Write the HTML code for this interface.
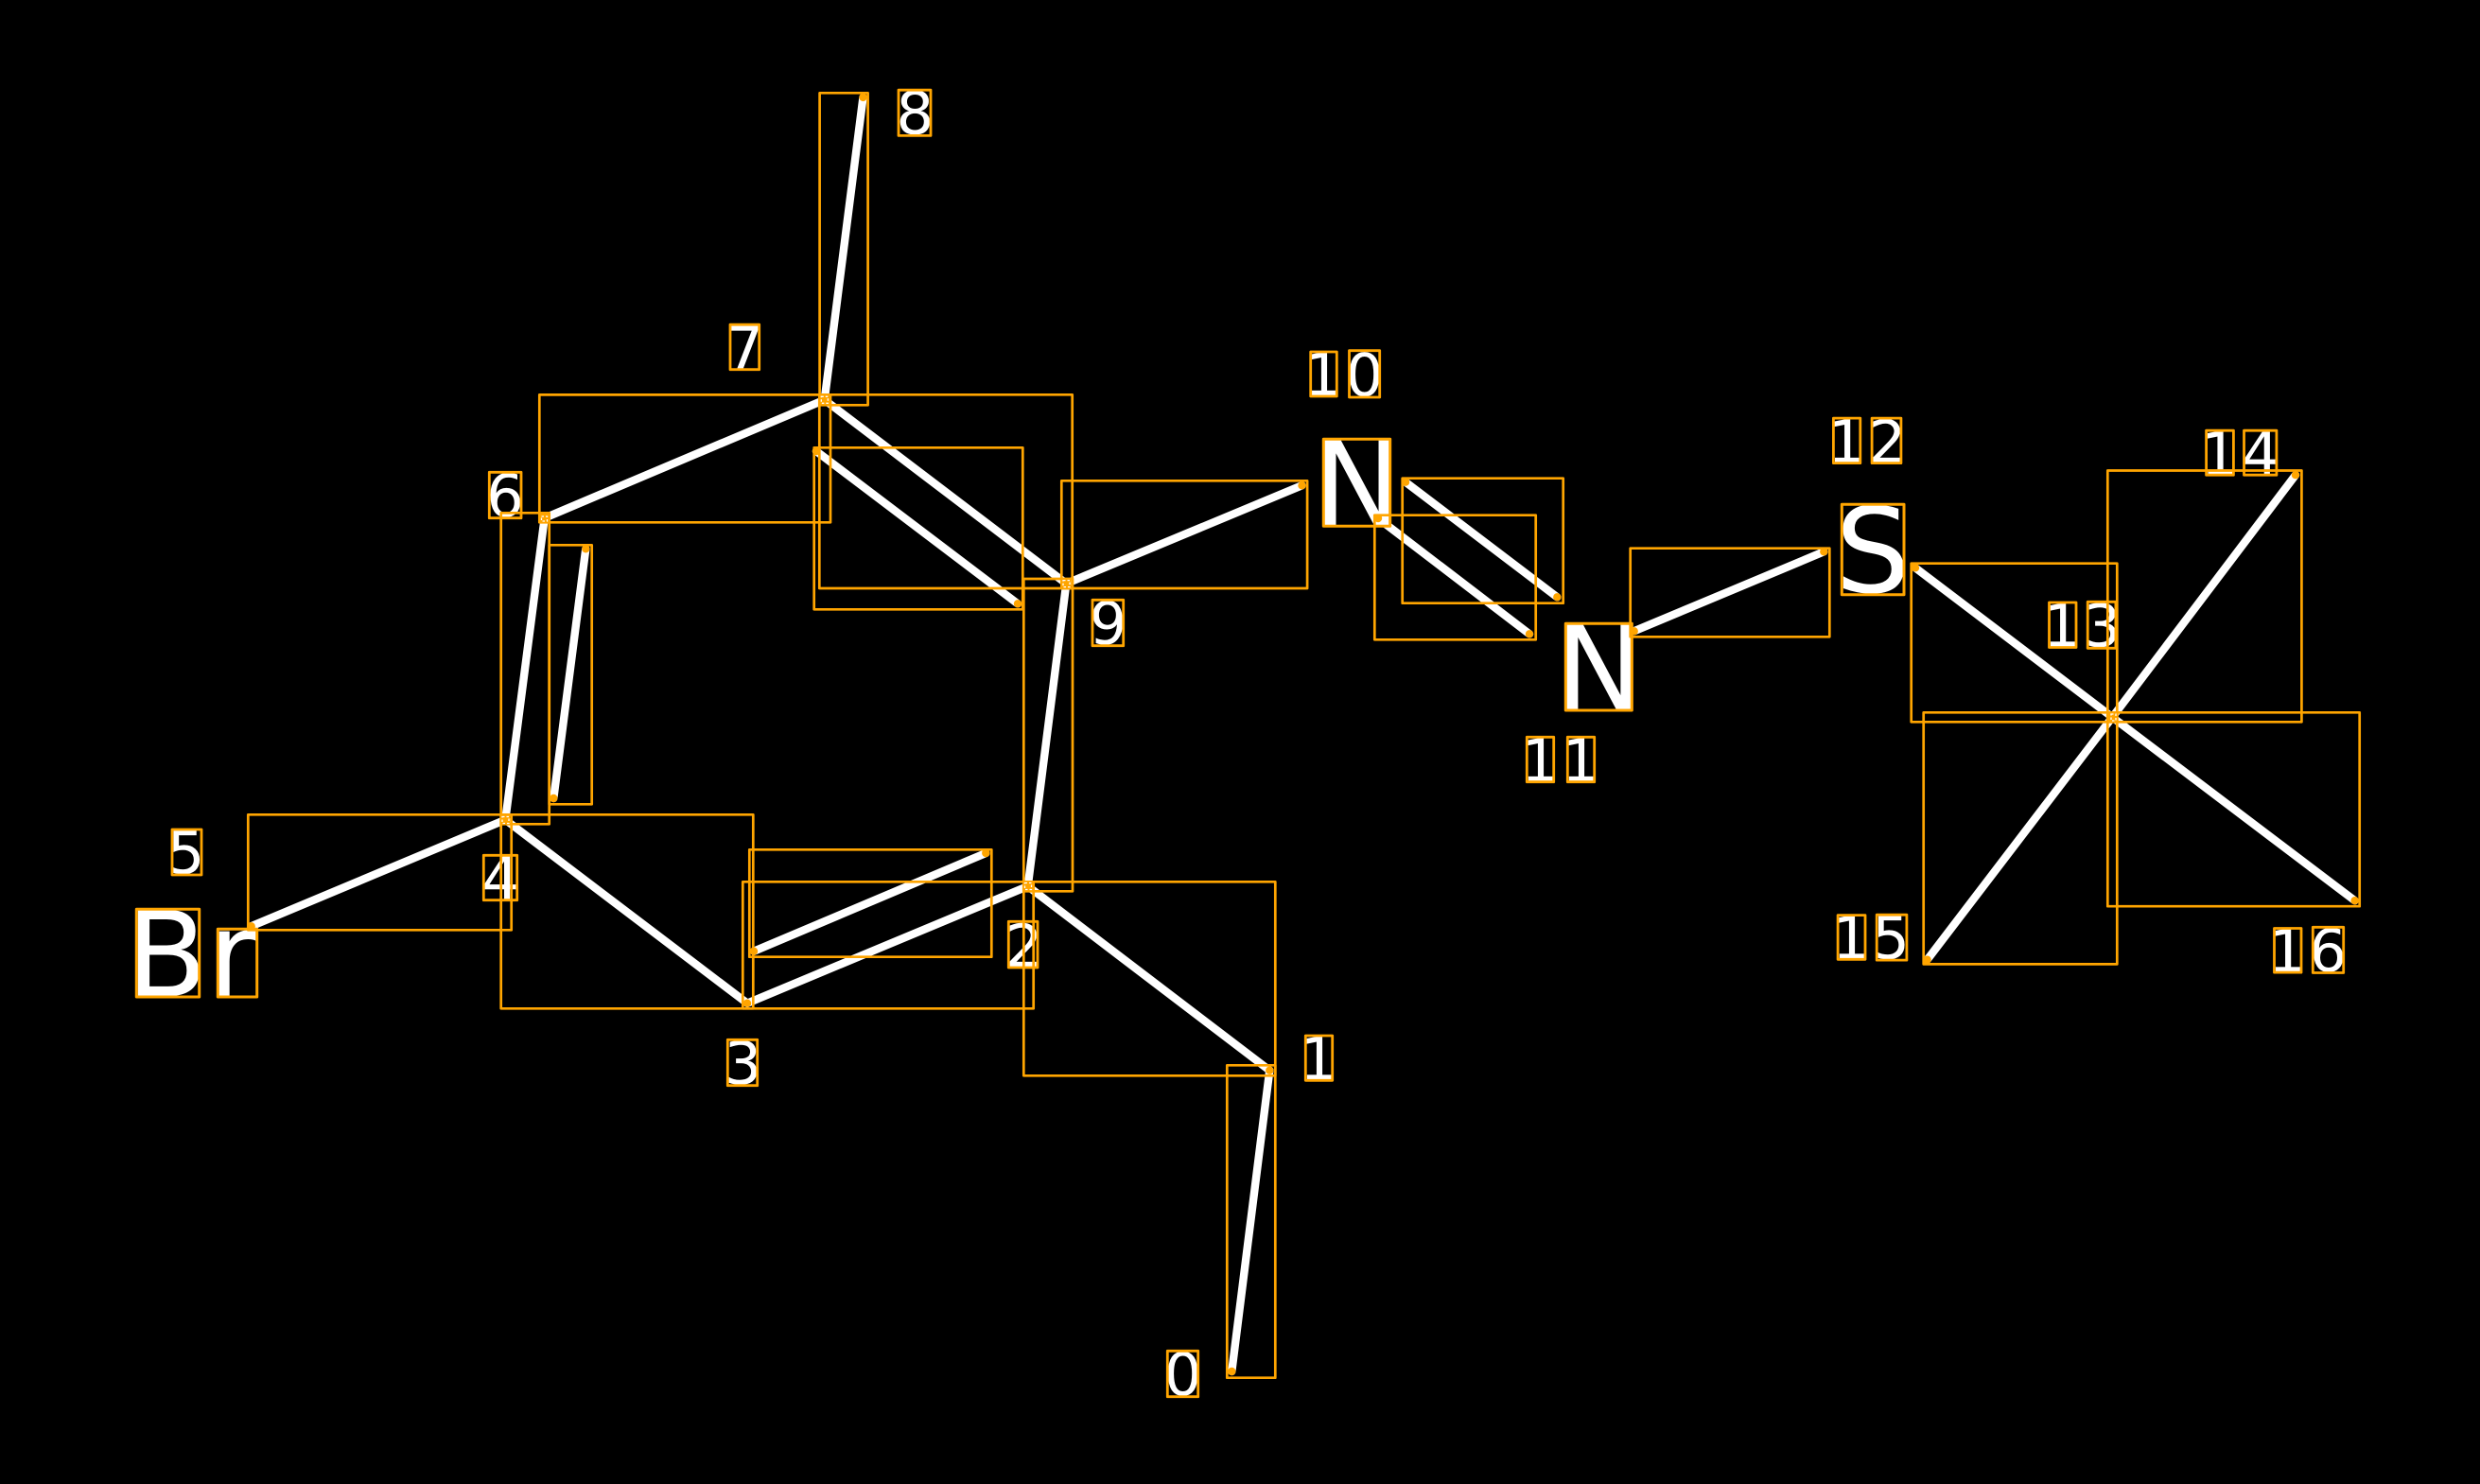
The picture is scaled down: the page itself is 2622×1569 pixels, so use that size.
<!DOCTYPE html>
<html>
<head>
<meta charset="utf-8">
<style>
html,body{margin:0;padding:0;background:#000;width:2622px;height:1569px;overflow:hidden}
svg{display:block}
text{font-family:"DejaVu Sans","Liberation Sans",sans-serif;fill:#fff;text-rendering:geometricPrecision}
.s{font-size:62.5px}
.b{font-size:125px}
.bond{stroke:#fff;stroke-width:8.4;stroke-linecap:round;fill:none}
.box{stroke:#FFA500;stroke-width:2.7;fill:none;stroke-linejoin:round}
.lab{stroke:#FFA500;stroke-width:2.8;fill:none;stroke-linejoin:round}
.dot{fill:#FFA500}
.hole{fill:none;stroke:#fff;stroke-width:1.3;stroke-dasharray:2.5 2}
</style>
</head>
<body>
<svg xmlns="http://www.w3.org/2000/svg" width="2622" height="1569" viewBox="0 0 2622 1569">
<rect x="0" y="0" width="2622" height="1569" fill="#000"/>

<!-- bonds -->
<g class="bond">
<line x1="1302.3" y1="1450" x2="1342.3" y2="1131.7"/>
<line x1="1342.3" y1="1131.7" x2="1086.7" y2="937"/>
<line x1="1086.7" y1="937" x2="790" y2="1060.7"/>
<line x1="1042.3" y1="902" x2="797" y2="1005.7"/>
<line x1="790" y1="1060.7" x2="534.3" y2="866.7"/>
<line x1="534.3" y1="866.7" x2="265.7" y2="979.3"/>
<line x1="534.3" y1="866.7" x2="575.7" y2="547.7"/>
<line x1="585.3" y1="844" x2="619.3" y2="580.3"/>
<line x1="575.7" y1="547.7" x2="871.7" y2="422.7"/>
<line x1="871.7" y1="422.7" x2="912.5" y2="102.9"/>
<line x1="871.7" y1="422.7" x2="1127.3" y2="617"/>
<line x1="863" y1="477" x2="1076" y2="638.3"/>
<line x1="1127.3" y1="617" x2="1086.7" y2="937"/>
<line x1="1127.3" y1="617" x2="1376.5" y2="513.3"/>
<line x1="1457" y1="548" x2="1617" y2="670.3"/>
<line x1="1486" y1="509.7" x2="1646.3" y2="631.3"/>
<line x1="1727.7" y1="667.3" x2="1928.3" y2="583.3"/>
<line x1="2025" y1="600.3" x2="2233.3" y2="758.3"/>
<line x1="2427" y1="502.2" x2="2233.3" y2="758.3"/>
<line x1="2037.6" y1="1014.7" x2="2233.3" y2="758.3"/>
<line x1="2489.6" y1="952.2" x2="2233.3" y2="758.3"/>
</g>

<!-- labels -->
<text class="s" x="1230.7" y="1475">0</text>
<text class="s" x="1374.1" y="1141.5">1</text>
<text class="s" x="1062.6" y="1022.2">2</text>
<text class="s" x="765.5" y="1146">3</text>
<text class="s" x="509.4" y="950.9">4</text>
<text class="s" x="176.8" y="923.3">5</text>
<text class="s" x="514.1" y="546">6</text>
<text class="s" x="767.7" y="389.9">7</text>
<text class="s" x="947.5" y="141.7">8</text>
<text class="s" x="1151.7" y="681">9</text>
<text class="s" x="1379.1" y="418.2">1</text>
<text class="s" x="1422.8" y="418.3">0</text>
<text class="s" x="1608.1" y="825.9">1</text>
<text class="s" x="1651.1" y="825.9">1</text>
<text class="s" x="1932.2" y="488.8">1</text>
<text class="s" x="1975.5" y="488.8">2</text>
<text class="s" x="2160.3" y="683.7">1</text>
<text class="s" x="2202.5" y="683.6">3</text>
<text class="s" x="2326.6" y="501.4">1</text>
<text class="s" x="2370.1" y="501.4">4</text>
<text class="s" x="1937.1" y="1013.5">1</text>
<text class="s" x="1979.3" y="1013.4">5</text>
<text class="s" x="2398.3" y="1027.3">1</text>
<text class="s" x="2441.4" y="1026.8">6</text>
<text class="b" x="133.5" y="1053.2">B</text>
<text class="b" x="220" y="1053.2">r</text>
<text class="b" x="1388.2" y="555.5">N</text>
<text class="b" x="1644.1" y="750.2">N</text>
<text class="b" x="1940.3" y="626.1">S</text>

<!-- bond boxes -->
<g class="box">
<path d="M1297.3 1126.3H1348.3V1456.7H1297.3Z"/>
<path d="M1082.3 932.3H1348.3V1137.3H1082.3Z"/>
<path d="M785.3 932.3H1092.7V1066.3H785.3Z"/>
<path d="M792.3 898.3H1048.3V1011.7H792.3Z"/>
<path d="M529.7 861.3H796.3V1066.3H529.7Z"/>
<path d="M262.3 861.3H540.7V983.3H262.3Z"/>
<path d="M529.7 542.3H580.7V871.3H529.7Z"/>
<path d="M580.7 576.3H625.7V850.3H580.7Z"/>
<path d="M570.3 417.4H878V552.3H570.3Z"/>
<path d="M866.6 98.3H917.6V428.3H866.6Z"/>
<path d="M866.3 417.3H1133.7V622H866.3Z"/>
<path d="M860.7 473.3H1081.3V644.3H860.7Z"/>
<path d="M1082.3 612H1134V942.3H1082.3Z"/>
<path d="M1122.3 508.3H1382.1V622H1122.3Z"/>
<path d="M1453.3 544.7H1623.7V676.3H1453.3Z"/>
<path d="M1482.7 505.7H1652.7V637.7H1482.7Z"/>
<path d="M1723.7 579.7H1934.3V673.3H1723.7Z"/>
<path d="M2020.7 595.7H2238.3V763.3H2020.7Z"/>
<path d="M2228.3 497.5H2433.4V763.3H2228.3Z"/>
<path d="M2033.7 753.3H2238.3V1019.4H2033.7Z"/>
<path d="M2228.3 753.3H2494.7V958.2H2228.3Z"/>
</g>

<!-- label boxes -->
<g class="lab">
<path d="M1234.3 1428.3H1266.7V1476.7H1234.3Z"/>
<path d="M1380.3 1095H1408.7V1142.3H1380.3Z"/>
<path d="M1066.3 974.3H1097V1023H1066.3Z"/>
<path d="M769.3 1099.3H800.7V1147.7H769.3Z"/>
<path d="M511.3 904.3H546.7V951.7H511.3Z"/>
<path d="M182 877H213V925H182Z"/>
<path d="M517.3 499.3H551V547.7H517.3Z"/>
<path d="M772 343.2H802.7V390.7H772Z"/>
<path d="M950 95.2H984V143.4H950Z"/>
<path d="M1155 634.3H1187.7V682.7H1155Z"/>
<path d="M1385.7 372H1413.3V419H1385.7Z"/>
<path d="M1426.5 370.7H1458.7V420H1426.5Z"/>
<path d="M1614.3 779.3H1642.7V826.7H1614.3Z"/>
<path d="M1657.3 779.3H1685.7V826.7H1657.3Z"/>
<path d="M1938.4 442.1H1966.8V489.6H1938.4Z"/>
<path d="M1979.1 442.1H2009.9V489.6H1979.1Z"/>
<path d="M2166.5 637H2195V684.5H2166.5Z"/>
<path d="M2207.2 636.3H2236.9V685.3H2207.2Z"/>
<path d="M2332.6 455.2H2361.4V502.2H2332.6Z"/>
<path d="M2372.5 455.2H2406.9V502.2H2372.5Z"/>
<path d="M1943.1 967.6H1972V1014.3H1943.1Z"/>
<path d="M1984.2 967.2H2015.9V1015.1H1984.2Z"/>
<path d="M2404.5 981.5H2433V1028.1H2404.5Z"/>
<path d="M2445.3 980.3H2477.7V1028.5H2445.3Z"/>
<path d="M144.3 961.3H210.7V1054H144.3Z" stroke-width="3"/>
<path d="M230.3 982.3H271.7V1054H230.3Z" stroke-width="3"/>
<path d="M1399.3 464.3H1469.7V556.3H1399.3Z" stroke-width="3"/>
<path d="M1655.3 659.3H1725.3V751H1655.3Z" stroke-width="3"/>
<path d="M1947.3 533.3H2013V628.7H1947.3Z" stroke-width="3"/>
</g>

<!-- endpoint dots -->
<g class="dot">
<circle cx="1302.3" cy="1450" r="4.2"/>
<circle cx="1342.3" cy="1131.7" r="4.2"/>
<circle cx="790" cy="1060.7" r="4.2"/>
<circle cx="1042.3" cy="902" r="4.2"/>
<circle cx="797" cy="1005.7" r="4.2"/>
<circle cx="265.7" cy="979.3" r="4.2"/>
<circle cx="619.3" cy="580.3" r="4.2"/>
<circle cx="585.3" cy="844" r="4.2"/>
<circle cx="912.5" cy="102.9" r="4.2"/>
<circle cx="863" cy="477" r="4.2"/>
<circle cx="1076" cy="638.3" r="4.2"/>
<circle cx="1376.5" cy="513.3" r="4.2"/>
<circle cx="1457" cy="548" r="4.2"/>
<circle cx="1486" cy="509.7" r="4.2"/>
<circle cx="1646.3" cy="631.3" r="4.2"/>
<circle cx="1617" cy="670.3" r="4.2"/>
<circle cx="1727.7" cy="667.3" r="4.2"/>
<circle cx="1928.3" cy="583.3" r="4.2"/>
<circle cx="2025" cy="600.3" r="4.2"/>
<circle cx="2427" cy="502.2" r="4.2"/>
<circle cx="2037.6" cy="1014.7" r="4.2"/>
<circle cx="2489.6" cy="952.2" r="4.2"/>
<rect x="1081.7" y="932" width="10" height="10"/>
<rect x="529.3" y="861.7" width="10" height="10"/>
<rect x="570.7" y="542.7" width="10" height="10"/>
<rect x="866.7" y="417.7" width="10" height="10"/>
<rect x="1122.3" y="612" width="10" height="10"/>
<rect x="2228.3" y="753.3" width="10" height="10"/>
</g>
<g class="hole">
<rect x="1083.5" y="933.5" width="7" height="7"/>
<rect x="531" y="863.5" width="7" height="7"/>
<rect x="572.5" y="546" width="6" height="5"/>
<rect x="868.3" y="419.3" width="7" height="7"/>
<rect x="1124" y="613.6" width="7" height="7"/>
<rect x="2232" y="755" width="5" height="7"/>
</g>
</svg>
</body>
</html>
